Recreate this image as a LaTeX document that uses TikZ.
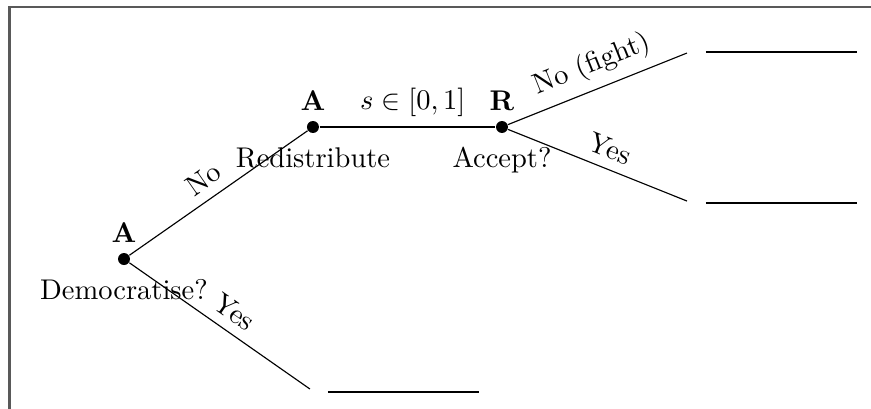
\documentclass[tikz,border=0pt]{standalone}
\usepackage{amsmath, amssymb}
\usepackage{tikz}

\begin{document}
\begin{tikzpicture}[dot/.style={circle, fill=black, inner sep=0pt, minimum size=4.2pt},
    lab/.style={inner sep=3.33pt}]
    \useasboundingbox (0,0) rectangle (10.74,5.031);
    % frame of the surrounding box
    \coordinate (f1) at (0.117,-0.2);
    \coordinate (f2) at (0.117,4.945);
    \coordinate (f3) at (10.9,4.945);
    \draw[black!65, line width=0.8pt] (f1)--(f2)--(f3);

    \node[dot] (A1) at (1.529,1.837) {};
    \node[dot] (A2) at (3.859,3.465) {};
    \node[dot] (R) at (6.190,3.465) {};

    \coordinate (e1) at (8.471,4.377);
    \coordinate (e2) at (8.471,2.552);
    \coordinate (e3) at (3.822,0.234);

    \coordinate (p1a) at (8.705,4.390);
    \coordinate (p1b) at (10.567,4.390);
    \coordinate (p2a) at (8.705,2.528);
    \coordinate (p2b) at (10.567,2.528);
    \coordinate (p3a) at (4.044,0.197);
    \coordinate (p3b) at (5.906,0.197);

    \draw (A1) -- node[pos=0.48, above, sloped] (nNo) {No} (A2);
    \draw (A1) -- node[pos=0.52, above, sloped] (nYes) {Yes} (e3);
    \draw (A2) -- node[pos=0.53, above] (ns) {$s \in [0,1]$} (R);
    \draw (R) -- node[pos=0.52, above, sloped] (nFight) {No (fight)} (e1);
    \draw (R) -- node[pos=0.53, above, sloped] (nAcc) {Yes} (e2);

    \draw (p1a) -- (p1b);
    \draw (p2a) -- (p2b);
    \draw (p3a) -- (p3b);

    \node[lab, above] (tA1) at (A1.north) {$\mathbf{A}$};
    \node[lab, above] (tA2) at (A2.north) {$\mathbf{A}$};
    \node[lab, above] (tR) at (R.north) {$\mathbf{R}$};

    \node[lab, below=1.3pt] (qA1) at (A1.south) {Democratise?};
    \node[lab, below=1.3pt] (qA2) at (A2.south) {Redistribute};
    \node[lab, below=1.3pt] (qR) at (R.south) {Accept?};
\end{tikzpicture}
\end{document}
